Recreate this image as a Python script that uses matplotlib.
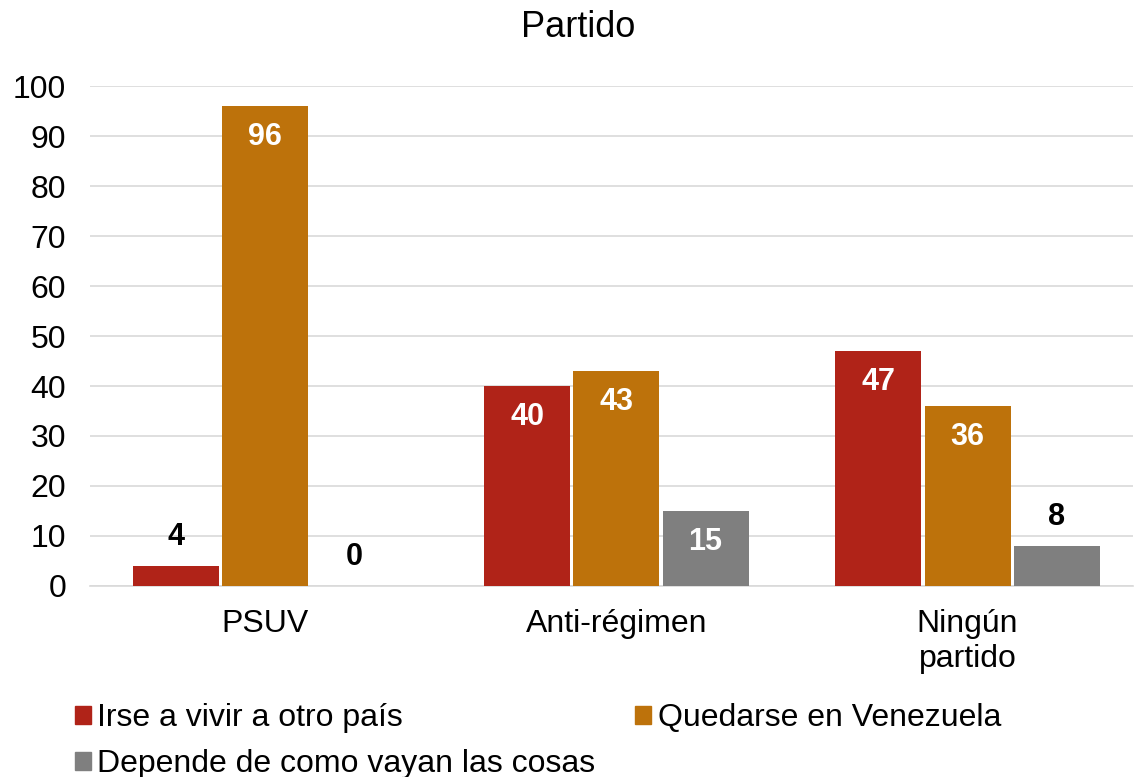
import numpy as np
from matplotlib import pyplot as plt
from matplotlib.patches import Patch

plt.rcParams['font.family'] = ['Liberation Sans', 'DejaVu Sans']

categories = ["PSUV", "Anti-régimen", "Ningún\npartido"]
series_names = ["Irse a vivir a otro país", "Quedarse en Venezuela",
                "Depende de como vayan las cosas"]
irse = [4, 40, 47]
quedarse = [96, 43, 36]
depende = [0, 15, 8]
colors = ["#B02318", "#BD720B", "#7F7F7F"]

fig = plt.figure(figsize=(11.36, 7.77), dpi=100)
ax = fig.add_axes([0.079, 0.246, 0.918, 0.643])

x = np.arange(len(categories))
pitch = 0.254
width = 0.245
for i, (vals, col) in enumerate(zip([irse, quedarse, depende], colors)):
    pos = x + (i - 1) * pitch
    ax.bar(pos, vals, width, color=col, zorder=3)
    for p, v in zip(pos, vals):
        if v >= 12:
            ax.text(p, v - 6.2, str(v), ha='center', va='center',
                    color='white', fontsize=22, fontweight='bold', zorder=4)
        else:
            ax.text(p, v + 5.8, str(v), ha='center', va='center',
                    color='black', fontsize=22, fontweight='bold', zorder=4)

ax.set_xlim(-0.5, 2.47)
ax.set_ylim(0, 100)
ax.set_yticks(range(0, 101, 10))
ax.set_xticks(x)
ax.set_xticklabels(categories)
ax.tick_params(axis='both', length=0, labelsize=23)
ax.tick_params(axis='x', pad=17)
ax.tick_params(axis='y', pad=17)
ax.yaxis.grid(True, color='#D9D9D9', linewidth=1.2, zorder=0)
for s in ['top', 'right', 'left']:
    ax.spines[s].set_visible(False)
ax.spines['bottom'].set_color('#D9D9D9')
ax.spines['bottom'].set_linewidth(1.2)

fig.text(0.509, 0.965, "Partido", ha='center', va='center', fontsize=26)

handles = [Patch(color=colors[0], label=series_names[0]),
           Patch(color=colors[2], label=series_names[2]),
           Patch(color=colors[1], label=series_names[1])]
fig.legend(handles=handles, ncol=2, loc='upper left',
           bbox_to_anchor=(0.066, 0.095), frameon=False, fontsize=23,
           handlelength=0.5, handleheight=0.5, handletextpad=0.2,
           columnspacing=1.25, labelspacing=0.5, borderaxespad=0,
           borderpad=0)

fig.savefig("out.png", dpi=100)
